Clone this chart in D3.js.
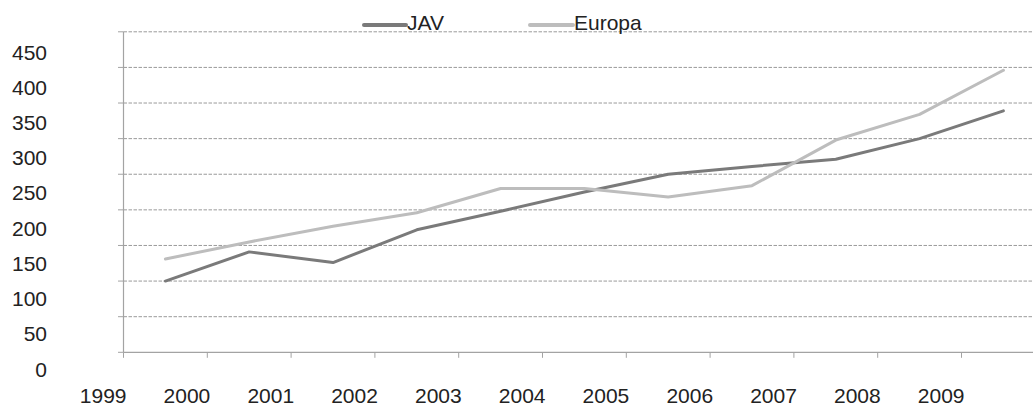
<!DOCTYPE html>
<html>
<head>
<meta charset="utf-8">
<script src="https://cdn.jsdelivr.net/npm/d3@7"></script>
<style>
  html, body { margin: 0; padding: 0; background: #fff; }
  svg { display: block; }
  text { font-family: "Liberation Sans", Arial, sans-serif; fill: #222; }
</style>
</head>
<body>
<script>
// Series data, one value per year
const years = ["1999", "2000", "2001", "2002", "2003", "2004", "2005", "2006", "2007", "2008", "2009"];
const javValues = [100, 141, 126, 172, 198, 225, 250, 261, 271, 300, 339];
const europaValues = [131, 155, 177, 196, 230, 230, 218, 234, 298, 334, 396];
const yTicks = [0, 50, 100, 150, 200, 250, 300, 350, 400, 450];
const seriesNames = ["JAV", "Europa"];

const W = 1033, H = 407;
const left = 123.5, step = 83.8;
const colors = { JAV: "#7a7a7a", Europa: "#bdbdbd" };
const fontSize = 21;

const svg = d3.select("body").append("svg")
  .attr("width", W).attr("height", H);

const x = d3.scaleBand()
  .domain(years)
  .range([left, left + step * years.length])
  .padding(0);

const y = d3.scaleLinear().domain([0, 450]).range([352.3, 31.8]);
// tick labels sit a little below their gridlines
const yLabel = d3.scaleLinear().domain([0, 450]).range([369, 52]);

// dashed horizontal gridlines
svg.append("g")
  .selectAll("line")
  .data(yTicks.filter(d => d > 0))
  .join("line")
  .attr("x1", left).attr("x2", W)
  .attr("y1", d => y(d)).attr("y2", d => y(d))
  .attr("stroke", "#9a9a9a")
  .attr("stroke-width", 1)
  .attr("stroke-dasharray", "3.5,1.5");

// y axis line and ticks
const axisColor = "#a3a3a3";
svg.append("line")
  .attr("x1", left).attr("x2", left)
  .attr("y1", y(450)).attr("y2", y(0))
  .attr("stroke", axisColor).attr("stroke-width", 1.2);
svg.append("g")
  .selectAll("line")
  .data(yTicks)
  .join("line")
  .attr("x1", left - 5.5).attr("x2", left)
  .attr("y1", d => y(d)).attr("y2", d => y(d))
  .attr("stroke", axisColor).attr("stroke-width", 1);

svg.append("g")
  .selectAll("text")
  .data(yTicks)
  .join("text")
  .attr("x", 47)
  .attr("y", d => yLabel(d))
  .attr("dy", "0.36em")
  .attr("text-anchor", "end")
  .attr("font-size", fontSize)
  .text(d => d);

// x axis line, ticks and labels
svg.append("line")
  .attr("x1", left).attr("x2", W)
  .attr("y1", y(0)).attr("y2", y(0))
  .attr("stroke", axisColor).attr("stroke-width", 1.2);
svg.append("g")
  .selectAll("line")
  .data(years)
  .join("line")
  .attr("x1", d => x(d)).attr("x2", d => x(d))
  .attr("y1", y(0)).attr("y2", y(0) + 5.5)
  .attr("stroke", axisColor).attr("stroke-width", 1);
svg.append("g")
  .selectAll("text")
  .data(years)
  .join("text")
  .attr("x", d => x(d) + 3)
  .attr("y", 403)
  .attr("text-anchor", "end")
  .attr("font-size", fontSize)
  .text(d => d);

// series lines
const line = d3.line()
  .x((d, i) => x(years[i]) + x.bandwidth() / 2)
  .y(d => y(d));

const series = [
  { name: "JAV", values: javValues },
  { name: "Europa", values: europaValues }
];

svg.append("g")
  .selectAll("path")
  .data(series)
  .join("path")
  .attr("d", d => line(d.values))
  .attr("fill", "none")
  .attr("stroke", d => colors[d.name])
  .attr("stroke-width", 3)
  .attr("stroke-linejoin", "round")
  .attr("stroke-linecap", "round");

// legend
const legendPos = [{ x1: 364, x2: 406 }, { x1: 530, x2: 573 }];
const legend = svg.append("g")
  .selectAll("g")
  .data(seriesNames)
  .join("g");
legend.append("line")
  .attr("x1", (d, i) => legendPos[i].x1)
  .attr("x2", (d, i) => legendPos[i].x2)
  .attr("y1", 25).attr("y2", 25)
  .attr("stroke", d => colors[d])
  .attr("stroke-width", 4)
  .attr("stroke-linecap", "round");
legend.append("text")
  .attr("x", (d, i) => legendPos[i].x2 + 1)
  .attr("y", 30)
  .attr("font-size", fontSize)
  .text(d => d);
</script>
</body>
</html>
